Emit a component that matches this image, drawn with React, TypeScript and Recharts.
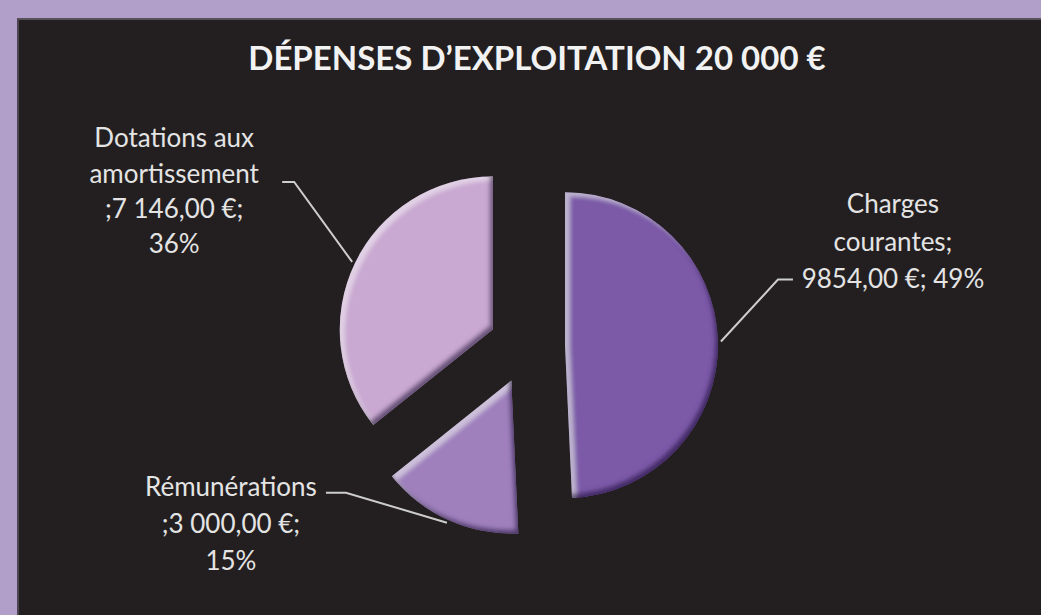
import React from 'react';
import { PieChart, Pie, Cell, Sector } from 'recharts';

const title = 'DÉPENSES D’EXPLOITATION 20 000 €';
const categories = ['Charges courantes', 'Rémunérations', 'Dotations aux amortissement'];
const values = [9854, 3000, 7146];
const labelTexts = [
  ['Charges', 'courantes;', '9854,00 €; 49%'],
  ['Rémunérations', ';3 000,00 €;', '15%'],
  ['Dotations aux', 'amortissement', ';7 146,00 €;', '36%'],
];
const colors = ['#7c5aa8', '#9f80bd', '#c9a8d1'];

const data = categories.map((name, i) => ({ name, value: values[i] }));

// layout of the leader lines / label blocks (relative to the arc point)
const labelLayout = [
  { elbow: [57, -62], run: 15, tx: 100, ty: [-77, -39, -2] },
  { elbow: [-101, -30], run: -20, tx: -95, ty: [-7, 30, 67] },
  { elbow: [-58, -80], run: -12, tx: -108, ty: [-45, -9, 26, 61] },
];

const EXPLODE = 38;
const RAD = Math.PI / 180;

function renderSlice(props: any) {
  const { cx, cy, midAngle, outerRadius, startAngle, endAngle, index } = props;
  const c = Math.cos(-midAngle * RAD);
  const s = Math.sin(-midAngle * RAD);
  const scx = cx + EXPLODE * c;
  const scy = cy + EXPLODE * s;
  const ax = scx + (outerRadius + 3) * c;
  const ay = scy + (outerRadius + 3) * s;
  const L = labelLayout[index];
  const ex = ax + L.elbow[0];
  const ey = ay + L.elbow[1];
  const hx = ex + L.run;
  return (
    <g>
      <g filter="url(#bevel)">
        <Sector
          cx={scx}
          cy={scy}
          innerRadius={0}
          outerRadius={outerRadius}
          startAngle={startAngle}
          endAngle={endAngle}
          fill={colors[index]}
          stroke="none"
        />
      </g>
      <polyline
        points={`${ax},${ay} ${ex},${ey} ${hx},${ey}`}
        fill="none"
        stroke="#cdcdcd"
        strokeWidth={2}
      />
      {labelTexts[index].map((t, k) => (
        <text
          key={k}
          x={hx + L.tx}
          y={ey + L.ty[k]}
          textAnchor="middle"
          dominantBaseline="central"
          fill="#e4e4e4"
          fontFamily="Lato, 'Open Sans', sans-serif"
          fontSize={26}
        >
          {t}
        </text>
      ))}
    </g>
  );
}

export default function App() {
  return (
    <div
      style={{
        position: 'absolute',
        left: 0,
        top: 0,
        width: 1041,
        height: 615,
        background: '#b19fca',
        overflow: 'hidden',
      }}
    >
      <div
        style={{
          position: 'absolute',
          left: 17,
          top: 18,
          right: 0,
          bottom: 0,
          background: '#231f20',
          borderTop: '2px solid #57525a',
          borderLeft: '2px solid #4a4550',
        }}
      />
      <svg
        width={1041}
        height={615}
        style={{ position: 'absolute', left: 0, top: 0 }}
      >
        <defs>
          <filter id="bevel" x="-10%" y="-10%" width="120%" height="120%">
            <feGaussianBlur in="SourceAlpha" stdDeviation="2" result="blur" />
            <feOffset in="blur" dx="5" dy="4" result="offHi" />
            <feComposite in="SourceAlpha" in2="offHi" operator="arithmetic" k2="1" k3="-1" result="hiMask" />
            <feFlood floodColor="#ffffff" floodOpacity="0.4" />
            <feComposite in2="hiMask" operator="in" result="hi" />
            <feOffset in="blur" dx="-3" dy="-4" result="offSh" />
            <feComposite in="SourceAlpha" in2="offSh" operator="arithmetic" k2="1" k3="-1" result="shMask" />
            <feFlood floodColor="#2a0c4e" floodOpacity="0.8" />
            <feComposite in2="shMask" operator="in" result="sh" />
            <feMerge>
              <feMergeNode in="SourceGraphic" />
              <feMergeNode in="hi" />
              <feMergeNode in="sh" />
            </feMerge>
          </filter>
        </defs>
        <text
          x={537}
          y={70}
          textAnchor="middle"
          fill="#f2f2f2"
          fontFamily="Lato, 'Open Sans', sans-serif"
          fontWeight="bold"
          fontSize={33}
        >
          {title}
        </text>
      </svg>
      <div style={{ position: 'absolute', left: 0, top: 0 }}>
        <PieChart width={1041} height={615} margin={{ top: 0, right: 0, bottom: 0, left: 0 }}>
          <Pie
            data={data}
            dataKey="value"
            nameKey="name"
            cx={527}
            cy={346}
            outerRadius={153}
            startAngle={90}
            endAngle={-270}
            stroke="none"
            label={renderSlice}
            labelLine={false}
            isAnimationActive={false}
          >
            {data.map((d) => (
              <Cell key={d.name} fill="transparent" />
            ))}
          </Pie>
        </PieChart>
      </div>
    </div>
  );
}
